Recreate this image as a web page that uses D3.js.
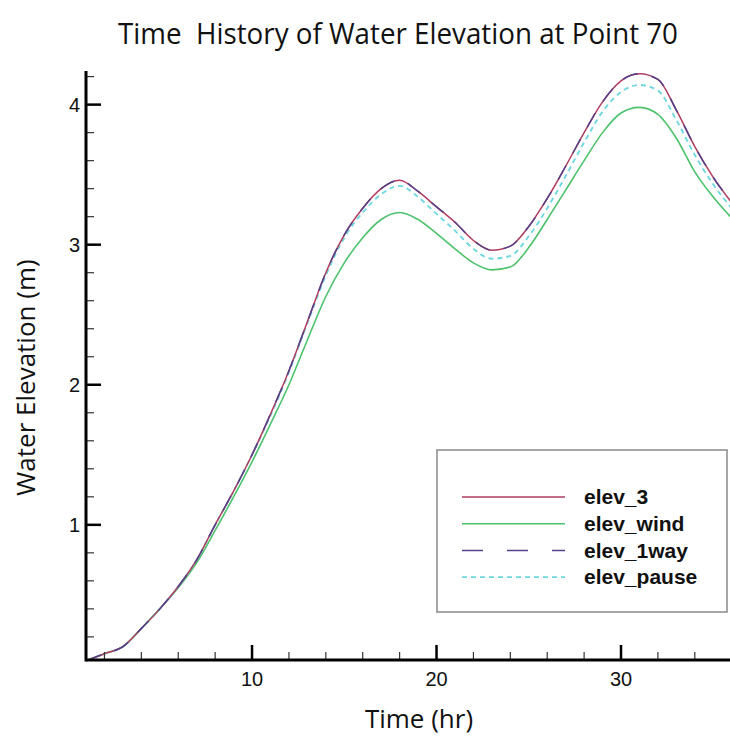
<!DOCTYPE html>
<html>
<head>
<meta charset="utf-8">
<script src="https://cdn.jsdelivr.net/npm/d3@7"></script>
<style>
  html, body { margin: 0; padding: 0; background: #fff; overflow: hidden; }
  svg { display: block; }
</style>
</head>
<body>
<div id="chart"></div>
<script>
// Time history of water elevation at point 70 (hourly readings)
const hours = [1, 2, 3, 4, 5, 6, 7, 8, 9, 10, 11, 12, 13, 14, 15, 16, 17, 18,
  19, 20, 21, 22, 23, 24, 25, 26, 27, 28, 29, 30, 31, 32, 33, 34, 35, 36];

const elev3 = [0.03, 0.08, 0.13, 0.26, 0.40, 0.56, 0.75, 1.00, 1.24, 1.50, 1.79, 2.10,
  2.45, 2.80, 3.07, 3.26, 3.40, 3.46, 3.38, 3.27, 3.16, 3.03, 2.96, 2.99,
  3.13, 3.33, 3.56, 3.80, 4.02, 4.17, 4.22, 4.18, 3.96, 3.70, 3.48, 3.30];

const elevWind = [0.03, 0.08, 0.13, 0.26, 0.40, 0.55, 0.73, 0.96, 1.20, 1.45, 1.72, 2.00,
  2.32, 2.63, 2.87, 3.05, 3.18, 3.23, 3.18, 3.08, 2.97, 2.87, 2.82, 2.84,
  2.98, 3.18, 3.39, 3.60, 3.80, 3.94, 3.98, 3.93, 3.76, 3.52, 3.34, 3.19];

const elev1way = [0.03, 0.08, 0.13, 0.26, 0.40, 0.56, 0.75, 1.00, 1.24, 1.50, 1.79, 2.10,
  2.45, 2.80, 3.07, 3.26, 3.40, 3.46, 3.38, 3.27, 3.16, 3.03, 2.96, 2.99,
  3.13, 3.33, 3.56, 3.80, 4.02, 4.17, 4.22, 4.18, 3.96, 3.70, 3.48, 3.30];

const elevPause = [0.03, 0.08, 0.13, 0.26, 0.40, 0.56, 0.75, 1.00, 1.24, 1.50, 1.78, 2.09,
  2.44, 2.78, 3.05, 3.23, 3.36, 3.42, 3.34, 3.22, 3.10, 2.97, 2.90, 2.92,
  3.06, 3.26, 3.49, 3.73, 3.95, 4.09, 4.14, 4.10, 3.89, 3.64, 3.43, 3.26];

const seriesNames = ["elev_3", "elev_wind", "elev_1way", "elev_pause"];
const seriesValues = [elev3, elevWind, elev1way, elevPause];

const xMajorTicks = [10, 20, 30];
const yMajorTicks = [1, 2, 3, 4];

(function () {
  const W = 730, H = 742;
  const styles = {
    elev_3: { color: "#b03c5e", width: 1.5, dash: null },
    elev_wind: { color: "#4cc26c", width: 1.6, dash: null },
    elev_1way: { color: "#56408a", width: 1.5, dash: "16,14" },
    elev_pause: { color: "#6fd8e0", width: 1.9, dash: "5,4" },
  };

  const svg = d3.select("#chart").append("svg")
    .attr("width", W).attr("height", H);

  const x = d3.scaleLinear().domain([1, 36]).range([86, 731.7]);
  const y = d3.scaleLinear().domain([0.035, 4.24]).range([660, 71]);

  const font = "'Liberation Sans', Arial, Helvetica, sans-serif";
  const titleFont = "'Open Sans', 'Noto Sans', sans-serif";

  // title (keeps the double space of the original)
  svg.append("text")
    .attr("x", 398).attr("y", 44)
    .attr("text-anchor", "middle")
    .attr("font-family", titleFont)
    .attr("font-size", 30)
    .attr("textLength", 560)
    .attr("lengthAdjust", "spacingAndGlyphs")
    .attr("fill", "#111")
    .style("white-space", "pre")
    .text("Time  History of Water Elevation at Point 70");

  const defs = svg.append("defs");
  defs.append("clipPath").attr("id", "plotclip")
    .append("rect")
    .attr("x", x.range()[0]).attr("y", y.range()[1] - 10)
    .attr("width", W - x.range()[0]).attr("height", y.range()[0] - y.range()[1] + 10);

  // lines
  const line = d3.line()
    .x((d) => x(d[0]))
    .y((d) => y(d[1]))
    .curve(d3.curveMonotoneX);

  const lineG = svg.append("g").attr("clip-path", "url(#plotclip)");
  const drawOrder = ["elev_wind", "elev_pause", "elev_3", "elev_1way"];
  drawOrder.forEach((name) => {
    const vals = seriesValues[seriesNames.indexOf(name)];
    const st = styles[name];
    lineG.append("path")
      .datum(hours.map((h, i) => [h, vals[i]]))
      .attr("fill", "none")
      .attr("stroke", st.color)
      .attr("stroke-width", st.width)
      .attr("stroke-dasharray", st.dash)
      .attr("stroke-linejoin", "round")
      .attr("d", line);
  });

  // axes
  const axisG = svg.append("g");
  const x0 = x.range()[0], yBase = y.range()[0];

  const xMinor = d3.range(2, 37, 2).filter((t) => !xMajorTicks.includes(t));
  const yMinor = d3.range(0.2, 4.25, 0.2).map((v) => +v.toFixed(1))
    .filter((v) => !yMajorTicks.includes(v));

  axisG.selectAll(".xminor").data(xMinor).join("line")
    .attr("x1", (d) => x(d)).attr("x2", (d) => x(d))
    .attr("y1", yBase).attr("y2", yBase - 8)
    .attr("stroke", "#333").attr("stroke-width", 1.2);

  axisG.selectAll(".xmajor").data(xMajorTicks).join("line")
    .attr("x1", (d) => x(d)).attr("x2", (d) => x(d))
    .attr("y1", yBase).attr("y2", yBase - 15)
    .attr("stroke", "#000").attr("stroke-width", 2.5);

  axisG.selectAll(".yminor").data(yMinor).join("line")
    .attr("x1", x0).attr("x2", x0 + 8)
    .attr("y1", (d) => y(d)).attr("y2", (d) => y(d))
    .attr("stroke", "#333").attr("stroke-width", 1.2);

  axisG.selectAll(".ymajor").data(yMajorTicks).join("line")
    .attr("x1", x0).attr("x2", x0 + 15)
    .attr("y1", (d) => y(d)).attr("y2", (d) => y(d))
    .attr("stroke", "#000").attr("stroke-width", 2.5);

  axisG.append("line")
    .attr("x1", x0).attr("x2", W)
    .attr("y1", yBase).attr("y2", yBase)
    .attr("stroke", "#000").attr("stroke-width", 3);
  axisG.append("line")
    .attr("x1", x0).attr("x2", x0)
    .attr("y1", y.range()[1]).attr("y2", yBase + 1.5)
    .attr("stroke", "#000").attr("stroke-width", 3);

  axisG.selectAll(".xlab").data(xMajorTicks).join("text")
    .attr("x", (d) => x(d)).attr("y", yBase + 26)
    .attr("text-anchor", "middle")
    .attr("font-family", font).attr("font-size", 20)
    .attr("fill", "#111")
    .text((d) => d);

  axisG.selectAll(".ylab").data(yMajorTicks).join("text")
    .attr("x", x0 - 6).attr("y", (d) => y(d))
    .attr("dy", "0.36em")
    .attr("text-anchor", "end")
    .attr("font-family", font).attr("font-size", 20)
    .attr("fill", "#111")
    .text((d) => d);

  // axis titles
  svg.append("text")
    .attr("x", 419).attr("y", 728)
    .attr("text-anchor", "middle")
    .attr("font-family", titleFont).attr("font-size", 26)
    .attr("fill", "#111")
    .text("Time (hr)");

  svg.append("text")
    .attr("transform", `translate(35,${(265 + 490) / 2}) rotate(-90)`)
    .attr("text-anchor", "middle")
    .attr("font-family", titleFont).attr("font-size", 26)
    .attr("fill", "#111")
    .text("Water Elevation (m)");

  // legend
  const leg = svg.append("g");
  leg.append("rect")
    .attr("x", 437).attr("y", 450)
    .attr("width", 290).attr("height", 162)
    .attr("fill", "#fff")
    .attr("stroke", "#888").attr("stroke-width", 1.5);

  const rows = leg.selectAll(".row").data(seriesNames).join("g")
    .attr("transform", (d, i) => `translate(0,${497 + i * 26.7})`);
  rows.append("line")
    .attr("x1", 462).attr("x2", 565)
    .attr("stroke", (d) => styles[d].color)
    .attr("stroke-width", (d) => styles[d].width)
    .attr("stroke-dasharray", (d) => (d === "elev_1way" ? "21,24" : styles[d].dash));
  rows.append("text")
    .attr("x", 584).attr("dy", "0.35em")
    .attr("font-family", font).attr("font-weight", "bold")
    .attr("font-size", 21)
    .attr("fill", "#111")
    .text((d) => d);
})();
</script>
</body>
</html>
